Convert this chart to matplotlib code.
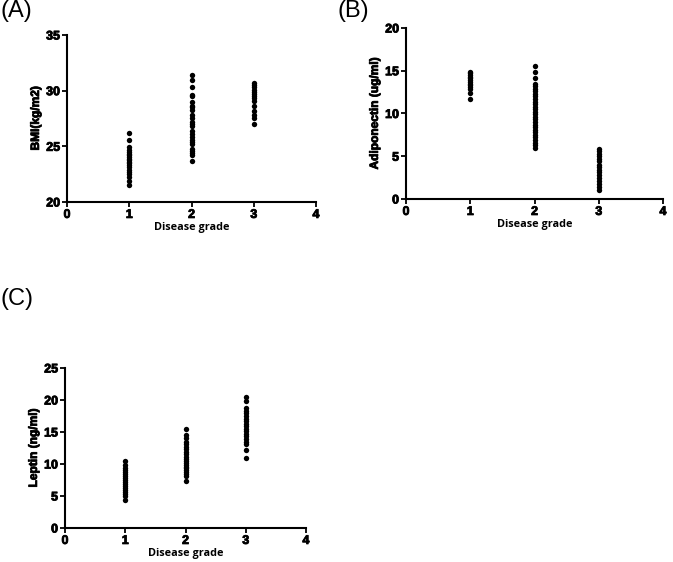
import matplotlib
matplotlib.use("Agg")
import matplotlib.pyplot as plt
import matplotlib.patheffects as pe

plt.rcParams["font.family"] = ["Liberation Sans", "DejaVu Sans"]
plt.rcParams["font.weight"] = "bold"

# ---- data ----
grades = [1, 2, 3]
bmi_g1 = [26.2, 25.6, 24.9, 24.7, 24.5, 24.3, 24.2, 24.0, 23.9, 23.8, 23.6, 23.5,
          23.3, 23.1, 22.9, 22.7, 22.5, 22.2, 21.9, 21.5]
bmi_g2 = [31.4, 31.0, 30.3, 29.6, 29.5, 29.0, 28.6, 28.5, 28.3, 27.8, 27.5, 27.2,
          27.0, 26.8, 26.4, 26.1, 25.8, 25.6, 25.4, 25.2, 24.8, 24.6, 24.4, 24.2, 23.7]
bmi_g3 = [30.7, 30.5, 30.3, 30.1, 29.9, 29.7, 29.5, 29.3, 29.1, 28.6, 28.2, 27.8,
          27.5, 27.0]

adipo_g1 = [14.9, 14.7, 14.5, 14.3, 14.1, 13.9, 13.7, 13.5, 13.3, 13.1, 12.9, 12.4, 11.7]
adipo_g2 = [15.6, 14.8, 14.2, 13.5, 13.2, 12.9, 12.6, 12.3, 12.0, 11.7, 11.4, 11.1,
            10.8, 10.5, 10.2, 9.9, 9.6, 9.3, 9.0, 8.7, 8.4, 8.1, 7.8, 7.5, 7.2, 6.9,
            6.6, 6.3, 6.0]
adipo_g3 = [5.9, 5.6, 5.3, 5.0, 4.7, 4.4, 4.0, 3.7, 3.4, 3.1, 2.8, 2.5, 2.1, 1.8,
            1.4, 1.0]

leptin_g1 = [10.5, 9.8, 9.3, 9.0, 8.7, 8.4, 8.1, 7.8, 7.5, 7.2, 6.9, 6.6, 6.3, 6.0,
             5.7, 5.3, 5.0, 4.3]
leptin_g2 = [15.5, 14.6, 14.0, 13.5, 13.1, 12.7, 12.3, 11.9, 11.5, 11.1, 10.8, 10.5,
             10.2, 9.9, 9.6, 9.3, 9.0, 8.7, 8.4, 8.1, 7.3]
leptin_g3 = [20.5, 19.8, 18.7, 18.3, 17.9, 17.5, 17.1, 16.7, 16.3, 15.9, 15.5, 15.1,
             14.7, 14.3, 13.9, 13.5, 13.2, 12.2, 11.0]

panels = [
    dict(tag="(A)", ylabel="BMI(kg/m2)", groups=[bmi_g1, bmi_g2, bmi_g3],
         ylim=(20, 35), yticks=[20, 25, 30, 35],
         rect=[0.0996, 0.6406, 0.370, 0.2971], tagpos=(0.0, 1.0)),
    dict(tag="(B)", ylabel="Adiponectin (ug/ml)", groups=[adipo_g1, adipo_g2, adipo_g3],
         ylim=(0, 20), yticks=[0, 5, 10, 15, 20],
         rect=[0.6033, 0.6459, 0.3819, 0.3043], tagpos=(0.502, 1.0)),
    dict(tag="(C)", ylabel="Leptin (ng/ml)", groups=[leptin_g1, leptin_g2, leptin_g3],
         ylim=(0, 25), yticks=[0, 5, 10, 15, 20, 25],
         rect=[0.0966, 0.0605, 0.3581, 0.2847], tagpos=(0.0, 0.488)),
]
xticks = [0, 1, 2, 3, 4]
heavy = [pe.withStroke(linewidth=0.6, foreground="black")]

fig = plt.figure(figsize=(6.73, 5.62), dpi=100)

for p in panels:
    ax = fig.add_axes(p["rect"])
    for g, vals in zip(grades, p["groups"]):
        ax.scatter([g] * len(vals), vals, s=15, color="black", zorder=3, linewidths=0)
    ax.set_xlim(0, 4)
    ax.set_ylim(*p["ylim"])
    ax.set_xticks(xticks)
    ax.set_yticks(p["yticks"])
    for side in ("top", "right"):
        ax.spines[side].set_visible(False)
    for side in ("left", "bottom"):
        ax.spines[side].set_linewidth(1.5)
        ax.spines[side].set_clip_on(False)
    ax.tick_params(direction="out", width=1.3, length=3.5, pad=1.5, labelsize=9)
    for lab in ax.get_xticklabels() + ax.get_yticklabels():
        lab.set_path_effects(heavy)
    ax.set_xlabel("Disease grade", family="Open Sans", weight="bold", size=7.8, labelpad=1)
    ax.set_ylabel(p["ylabel"], weight="bold", size=8.6, labelpad=3, path_effects=heavy)
    fig.text(p["tagpos"][0], p["tagpos"][1], p["tag"],
             weight="normal", size=17, ha="left", va="top")

fig.savefig("out.png", dpi=100)
